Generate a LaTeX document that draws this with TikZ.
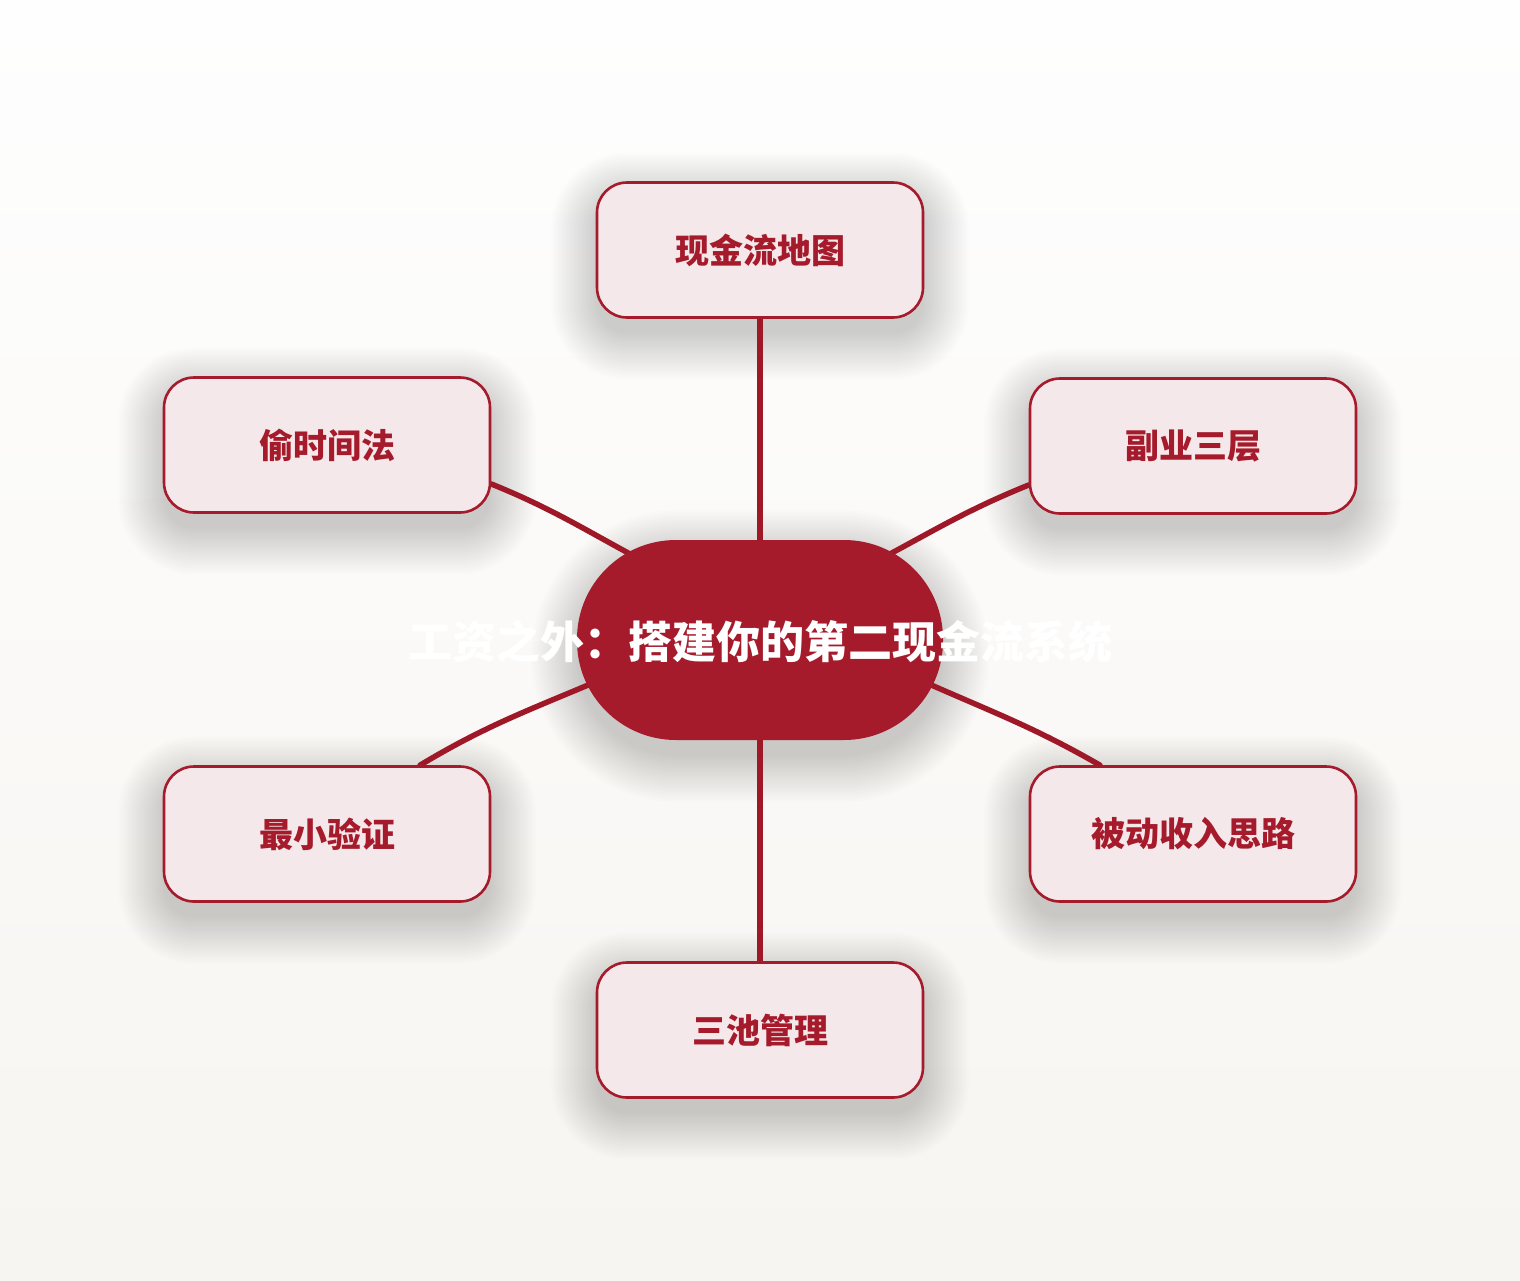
\documentclass[tikz,border=0pt]{standalone}
\usepackage{fontspec}
\newfontfamily\cjk{Noto Sans CJK SC}
\usetikzlibrary{calc}
\definecolor{mainred}{HTML}{A51B2B}
\definecolor{satfill}{HTML}{F5E8EB}
\definecolor{linered}{HTML}{9E1828}
\definecolor{bgtop}{HTML}{FEFEFE}
\definecolor{bgbot}{HTML}{F7F5F1}
\pgfdeclarelayer{back}
\pgfdeclarelayer{shade}
\pgfdeclarelayer{lines}
\pgfsetlayers{back,shade,lines,main}
\newcommand\softshadow[5]{% cx cy w h r
  \foreach \i in {0,...,23}{%
    \pgfmathsetmacro\ee{46-2*\i}%
    \pgfmathsetmacro\rr{#5+\ee}%
    \fill[black, opacity=0.006, rounded corners=\rr pt]
      ({#1-#3/2-\ee},{#2-#4/2-\ee+16}) rectangle ({#1+#3/2+\ee},{#2+#4/2+\ee+16});
  }}
\begin{document}
\begin{tikzpicture}[x=1pt,y=-1pt,
  satbox/.style={draw=mainred, line width=2.6pt, fill=satfill, rounded corners=30pt,
    minimum width=326pt, minimum height=135pt, inner sep=0pt,
    font=\cjk\bfseries\fontsize{34}{40}\selectfont, text=mainred},
  hubbox/.style={fill=mainred, draw=none, rounded corners=99pt,
    minimum width=366pt, minimum height=200pt, inner sep=0pt},
  hubtext/.style={font=\cjk\bfseries\fontsize{44}{50}\selectfont, text=white, inner sep=0pt},
  link/.style={draw=linered, line width=5.5pt, line cap=round}
]
\begin{pgfonlayer}{back}
  \path[top color=bgtop, bottom color=bgbot, shading=axis] (0,0) rectangle (1520,1280);
\end{pgfonlayer}
\useasboundingbox (0,0) rectangle (1520,1280);

\begin{pgfonlayer}{shade}
  \softshadow{760}{640}{366}{200}{100}
  \softshadow{760}{250}{326}{135}{30}
  \softshadow{327}{445}{326}{135}{30}
  \softshadow{1193}{446}{326}{135}{30}
  \softshadow{327}{834}{326}{135}{30}
  \softshadow{1193}{834}{326}{135}{30}
  \softshadow{760}{1030}{326}{135}{30}
\end{pgfonlayer}

\node[hubbox] (c) at (760,640) {};
\node[hubtext] (ct) at (760,642) {工资之外：搭建你的第二现金流系统};

\node[satbox] (t)  at (760,250)  {现金流地图};
\node[satbox] (ul) at (327,445)  {偷时间法};
\node[satbox] (ur) at (1193,446) {副业三层};
\node[satbox] (ll) at (327,834)  {最小验证};
\node[satbox] (lr) at (1193,834) {被动收入思路};
\node[satbox] (b)  at (760,1030) {三池管理};

\coordinate (cul) at ($(c.center)+(-115,-78)$);
\coordinate (cur) at ($(c.center)+(115,-78)$);
\coordinate (cll) at ($(c.center)+(-160,40)$);
\coordinate (clr) at ($(c.center)+(160,40)$);

\begin{pgfonlayer}{lines}
  \draw[link] (t.south) -- (c.center);
  \draw[link] (b.north) -- (c.center);
  \draw[link] ([yshift=-39pt]ul.east) to[out=-22, in=152] (cul);
  \draw[link] ([yshift=-39pt]ur.west) to[out=-158, in=28] (cur);
  \draw[link] ([xshift=93pt]ll.north) to[out=31, in=-157] (cll);
  \draw[link] ([xshift=-93pt]lr.north) to[out=150, in=-24] (clr);
\end{pgfonlayer}
\end{tikzpicture}
\end{document}
